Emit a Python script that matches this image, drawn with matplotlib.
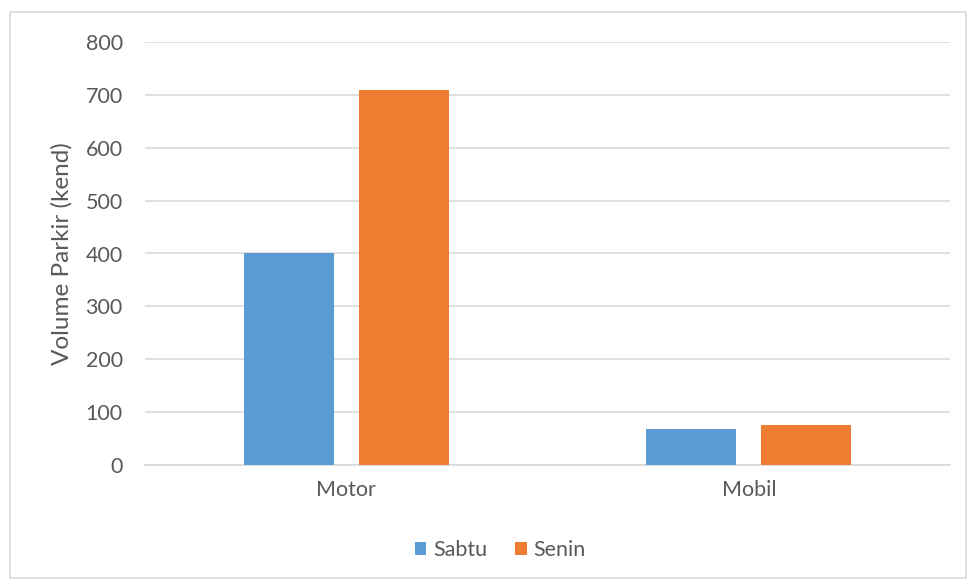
import matplotlib.pyplot as plt
import numpy as np
from matplotlib.patches import Rectangle

categories = ["Motor", "Mobil"]
series_names = ["Sabtu", "Senin"]
sabtu = [400, 68]
senin = [710, 75]
yticks = [0, 100, 200, 300, 400, 500, 600, 700, 800]

colors = ["#5B9BD5", "#ED7D31"]
text_color = "#595959"

plt.rcParams["font.family"] = ["Lato", "DejaVu Sans"]

fig = plt.figure(figsize=(9.69, 5.80), dpi=100)
ax = fig.add_axes([145 / 969, 1 - 465 / 580, 805 / 969, 423 / 580])

# outer chart border
fig.patches.append(Rectangle((10 / 969, 2 / 580), 956 / 969, 566 / 580,
                             transform=fig.transFigure, fill=False,
                             edgecolor="#D9D9D9", linewidth=1.2))

x = np.arange(len(categories))
w = 0.224
gap = 0.031
ax.bar(x - w / 2 - gap, sabtu, width=w, color=colors[0], label=series_names[0], zorder=3)
ax.bar(x + w / 2 + gap, senin, width=w, color=colors[1], label=series_names[1], zorder=3)

ax.set_xlim(-0.5, 1.5)
ax.set_ylim(0, 800)
ax.set_yticks(yticks)
ax.set_xticks(x)
ax.set_xticklabels(categories)
ax.grid(axis="y", color="#D9D9D9", linewidth=1.2, zorder=0)
for s in ["top", "right", "left"]:
    ax.spines[s].set_visible(False)
ax.spines["bottom"].set_color("#D9D9D9")
ax.spines["bottom"].set_linewidth(1.2)
ax.tick_params(axis="both", length=0, labelsize=15.5, colors=text_color)
ax.tick_params(axis="y", pad=16)
ax.tick_params(axis="x", pad=11)
ax.set_ylabel("Volume Parkir (kend)", fontsize=17.5, color=text_color)
ax.yaxis.set_label_coords(-0.09, 0.5)

fig.legend(loc="center", bbox_to_anchor=(500 / 969, 1 - 550 / 580), ncol=2,
           frameon=False, fontsize=15.5, handlelength=0.55, handleheight=0.55,
           columnspacing=1.3, handletextpad=0.3, labelcolor=text_color)

fig.savefig("out.png", dpi=100)
